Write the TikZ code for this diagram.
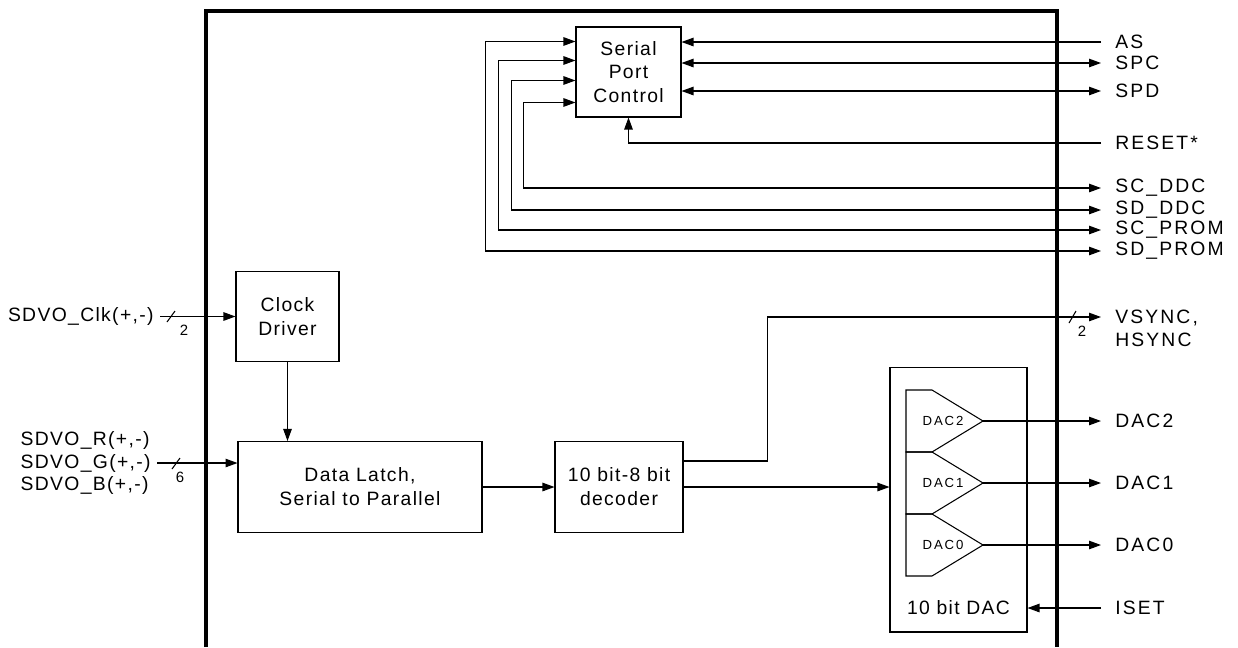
\documentclass[tikz,border=0pt]{standalone}
\usepackage{fontspec}
\setmainfont{Liberation Sans}[LetterSpace=7]
\usetikzlibrary{positioning}
\usetikzlibrary{calc}
\usetikzlibrary{arrows.meta}
\newcommand\sigfont{\fontsize{11}{13.6}\selectfont}
\newcommand\pinfont{\fontsize{11}{13}\selectfont\addfontfeatures{LetterSpace=11}}
\newcommand\busfont{\fontsize{8.5}{9}\selectfont}
\newcommand\dacfont{\fontsize{7.5}{9}\selectfont\addfontfeatures{LetterSpace=14}}
\tikzstyle{block} = [draw, line width=0.6pt, align=center, inner sep=0pt]
\tikzstyle{arrow} = [line width=0.6pt, -{Triangle[length=2.4mm,width=1.7mm]}]
\tikzstyle{dblarrow} = [line width=0.6pt, {Triangle[length=2.4mm,width=1.7mm]}-{Triangle[length=2.4mm,width=1.7mm]}]
\tikzstyle{pin} = [anchor=west, inner xsep=2.8mm, inner ysep=0pt, align=left, font=\pinfont]
\tikzstyle{pinl} = [anchor=east, inner xsep=1.2mm, inner ysep=0pt, align=left]
\tikzstyle{busnum} = [font=\busfont, inner sep=0pt]
\tikzstyle{daclbl} = [font=\dacfont, inner sep=0pt]
\begin{document}
\begin{tikzpicture}[x=0.02cm, y=-0.02cm, every node/.style={font=\sigfont}]
\useasboundingbox (0,0) rectangle (1238,647);
% chip outline
\draw[line width=2.3pt] (206,647) |- (1057,11) -- (1057,647);
% blocks
\node[block, minimum width=2.1cm, minimum height=1.8cm] (serial) at (628.5,72) {Serial\\Port\\Control};
\node[block, minimum width=2.06cm, minimum height=1.8cm] (clk) at (287.5,316.5) {Clock\\Driver};
\node[block, minimum width=4.88cm, minimum height=1.82cm] (latch) at (360,487) {Data Latch,\\Serial to Parallel};
\node[block, minimum width=2.56cm, minimum height=1.82cm] (dec) at (619,487) {10 bit-8 bit\\decoder};
\node[block, minimum width=2.74cm, minimum height=5.3cm] (dacbox) at (958.5,499.5) {};
\node (daclbl) at (958.5,608) {10 bit DAC};
% pins, right
\node[pin] (as) at (1101,42) {AS};
\node[pin] (spc) at (1101,63) {SPC};
\node[pin] (spd) at (1101,91) {SPD};
\node[pin] (reset) at (1101,143) {RESET*};
\node[pin] (scddc) at (1101,188) {SC\_DDC};
\node[pin] (sdddc) at (1101,210) {SD\_DDC};
\node[pin] (scprom) at (1101,230) {SC\_PROM};
\node[pin] (sdprom) at (1101,251) {SD\_PROM};
\node[pin] (sync) at (1101,328) {VSYNC,\\HSYNC};
\coordinate (syncend) at (1101,317);
\node[pin] (dac2) at (1101,421) {DAC2};
\node[pin] (dac1) at (1101,483) {DAC1};
\node[pin] (dac0) at (1101,545) {DAC0};
\node[pin] (iset) at (1101,608) {ISET};
% pins, left
\node[pinl] (clkin) at (160,316.5) {SDVO\_Clk(+,-)};
\node[pinl, font={\fontsize{11}{12.6}\selectfont}] (rgbin) at (157,463) {SDVO\_R(+,-)\\SDVO\_G(+,-)\\SDVO\_B(+,-)};
% serial port
\draw[arrow] (as.west) -- (as.west -| serial.east);
\draw[dblarrow] (serial.east |- spc.west) -- (spc.west);
\draw[dblarrow] (serial.east |- spd.west) -- (spd.west);
\draw[arrow] (reset.west) -| (serial.south);
\draw[dblarrow] ($(serial.north west)+(0,76)$) -- ++(-52,0) |- (scddc.west);
\draw[dblarrow] ($(serial.north west)+(0,54)$) -- ++(-64,0) |- (sdddc.west);
\draw[dblarrow] ($(serial.north west)+(0,34)$) -- ++(-77,0) |- (scprom.west);
\draw[dblarrow] ($(serial.north west)+(0,15)$) -- ++(-90,0) |- (sdprom.west);
% data path
\draw[arrow] (clkin.east) -- (clk.west);
\draw[arrow] (rgbin.east) -- (rgbin.east -| latch.west);
\draw[arrow] (clk.south) -- (clk.south |- latch.north);
\draw[arrow] (latch.east) -- (dec.west);
\draw[arrow] (dec.east) -- (dec.east -| dacbox.west);
\draw[arrow] ($(dec.north east)+(0,20)$) -- ++(84,0) |- (syncend);
\draw[arrow] (iset.west) -- (iset.west -| dacbox.east);
% bus marks
\draw[line width=0.6pt] (167,322) -- (175,311);
\node[busnum] at (184,330) {2};
\draw[line width=0.6pt] (172,469) -- (180,458);
\node[busnum] at (180,477) {6};
\draw[line width=0.6pt] (1069,323) -- (1076,311);
\node[busnum] at (1082,331) {2};
% dacs
\foreach \n/\t in {2/390,1/452,0/514}{
  \draw[line width=0.6pt] (906,\t) -- (932,\t) -- (983,\t+31) -- (932,\t+62) -- (906,\t+62) -- cycle;
  \node[daclbl] at (943,\t+31) {DAC\n};
  \coordinate (tip\n) at (983,\t+31);
  \draw[arrow] (tip\n) -- (dac\n.west);
}
\end{tikzpicture}
\end{document}
